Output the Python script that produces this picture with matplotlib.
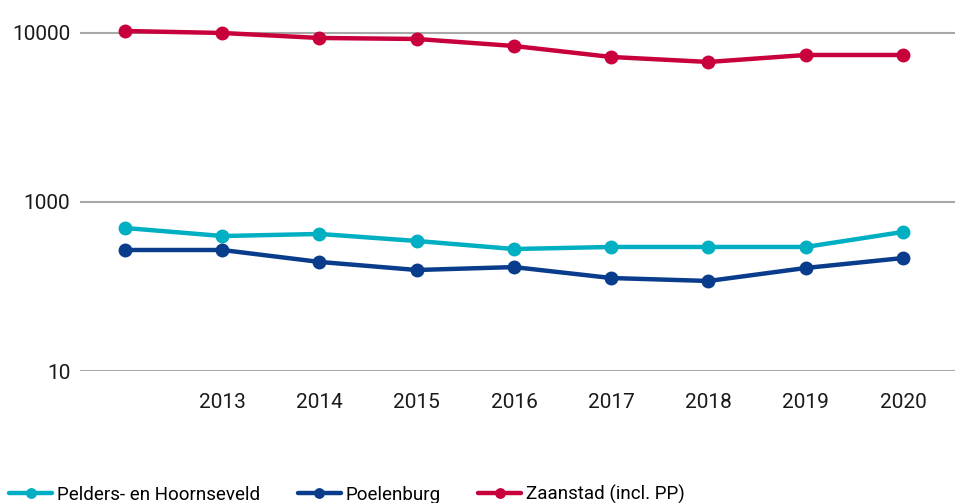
import matplotlib
matplotlib.use("Agg")
import matplotlib.pyplot as plt

plt.rcParams["font.family"] = ["Roboto", "DejaVu Sans"]

years = [2012, 2013, 2014, 2015, 2016, 2017, 2018, 2019, 2020]
tick_years = [2013, 2014, 2015, 2016, 2017, 2018, 2019, 2020]

pelders = [702, 629, 647, 588, 527, 542, 542, 542, 665]
poelenburg = [520, 520, 442, 396, 412, 355, 341, 407, 466]
zaanstad = [10275, 10000, 9342, 9216, 8377, 7211, 6738, 7410, 7410]

y_ticks = [100, 1000, 10000]
y_labels = ["10", "1000", "10000"]

series = [
    ("Pelders- en Hoornseveld", pelders, "#00AFC1"),
    ("Poelenburg", poelenburg, "#0A3C8C"),
    ("Zaanstad (incl. PP)", zaanstad, "#C8003C"),
]

fig = plt.figure(figsize=(9.59, 5.03), dpi=100)
ax = fig.add_axes([0.0834, 0.2624, 0.9124, 0.7078])

for name, vals, color in series:
    ax.plot(years, vals, color=color, lw=3.2, marker="o", markersize=9,
            solid_capstyle="round", label=name, zorder=3)

ax.set_yscale("log")
ax.set_ylim(100, 12777)
ax.set_xlim(2011.537, 2020.535)

ax.yaxis.set_major_locator(matplotlib.ticker.FixedLocator(y_ticks))
ax.yaxis.set_minor_locator(matplotlib.ticker.NullLocator())
ax.set_yticklabels(y_labels)
ax.set_xticks(tick_years)
ax.set_xticklabels([str(y) for y in tick_years])

ax.grid(axis="y", color="#A8A8A8", lw=1.5, zorder=0)
ax.tick_params(axis="both", length=0, labelsize=15, colors="#1a1a1a")
ax.tick_params(axis="x", pad=16)
ax.tick_params(axis="y", pad=7)
for s in ax.spines.values():
    s.set_visible(False)

fig.legend(loc="lower left", bbox_to_anchor=(-0.008, -0.036), ncol=3,
           frameon=False, fontsize=13.5, handlelength=2.3, handletextpad=0.25,
           columnspacing=2.0, markerscale=0.75)

fig.savefig("out.png", dpi=100)
